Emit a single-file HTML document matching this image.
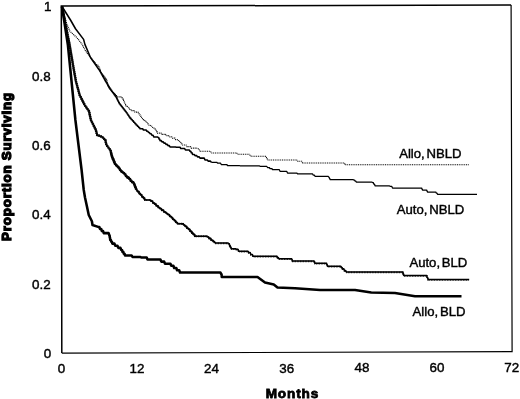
<!DOCTYPE html>
<html><head><meta charset="utf-8"><title>Survival</title>
<style>
html,body{margin:0;padding:0;background:#fff;}
body{width:520px;height:399px;overflow:hidden;position:relative;font-family:"Liberation Sans",Arial,Helvetica,sans-serif;color:#000;}
svg{position:absolute;left:0;top:0;filter:grayscale(1);}
.t{font-family:"Liberation Sans",Arial,Helvetica,sans-serif;font-size:13.4px;fill:#000;stroke:#000;stroke-width:0.42px;}
.c{font-size:13.15px;}
.b{font-family:"Liberation Sans",Arial,Helvetica,sans-serif;font-size:13.6px;font-weight:bold;fill:#000;stroke:#000;stroke-width:0.8px;letter-spacing:0.85px;paint-order:stroke;}
</style></head><body>
<svg width="520" height="399" viewBox="0 0 520 399">
<rect x="0" y="0" width="520" height="399" fill="#fff"/>
<!-- frame -->
<polyline points="61.8,353.1 61.3,6.1 511.1,5.0" fill="none" stroke="#000" stroke-width="1.5"/>
<polyline points="511.1,5.0 512.1,351.7 61.8,353.1" fill="none" stroke="#000" stroke-width="1.2"/>
<!-- curves -->
<polyline points="62.00,6.50 66.75,23.75 69.90,31.25 76.75,37.50 81.75,43.75 84.90,49.90 88.50,55.00 91.00,58.00 97.00,65.00 97.75,65.00 98.15,66.50 98.90,66.50 99.30,68.00 99.56,68.00 99.70,69.25 99.96,69.25 100.10,70.50 100.36,70.50 100.50,71.75 100.76,71.75 100.90,73.00 101.57,73.00 101.93,74.25 102.59,74.25 102.95,75.50 103.62,75.50 103.97,76.75 104.64,76.75 105.00,78.00 105.43,78.00 105.67,79.17 106.10,79.17 106.33,80.33 106.77,80.33 107.00,81.50 107.22,81.50 107.33,83.00 107.55,83.00 107.67,84.50 107.88,84.50 108.00,86.00 108.43,86.00 108.67,87.17 109.10,87.17 109.33,88.33 109.77,88.33 110.00,89.50 110.75,89.50 111.15,90.73 111.90,90.73 112.30,91.97 113.05,91.97 113.45,93.20 114.20,93.20 114.60,94.43 115.35,94.43 115.75,95.67 116.50,95.67 116.90,96.90 121.70,96.90 122.50,98.75 122.91,98.75 123.12,100.00 123.53,100.00 123.75,101.25 124.16,101.25 124.38,102.50 124.78,102.50 125.00,103.75 125.41,103.75 125.62,105.00 126.03,105.00 126.25,106.25 127.33,106.25 127.92,107.70 129.00,107.70 129.58,109.15 130.67,109.15 131.25,110.60 134.20,110.60 135.00,112.17 137.95,112.17 138.75,113.75 139.36,113.75 139.69,115.00 140.30,115.00 140.62,116.25 141.23,116.25 141.56,117.50 142.17,117.50 142.50,118.75 143.31,118.75 143.75,120.00 144.56,120.00 145.00,121.25 145.81,121.25 146.25,122.50 147.06,122.50 147.50,123.75 148.31,123.75 148.75,125.00 149.97,125.00 150.63,126.25 151.86,126.25 152.52,127.50 153.74,127.50 154.40,128.75 155.07,128.75 155.43,130.20 156.10,130.20 156.47,131.65 157.14,131.65 157.50,133.10 161.07,133.10 161.88,134.35 165.45,134.35 166.25,135.60 168.57,135.60 169.38,136.85 171.70,136.85 172.50,138.10 174.82,138.10 175.62,139.68 177.95,139.68 178.75,141.25 179.56,141.25 180.00,142.50 180.81,142.50 181.25,143.75 182.06,143.75 182.50,145.00 186.07,145.00 186.88,146.55 190.45,146.55 191.25,148.10 196.70,148.10 197.50,148.75 198.31,148.75 198.75,150.00 199.56,150.00 200.00,151.25 207.50,151.25 210.45,151.25 211.25,153.00 235.00,153.00 236.70,153.00 237.50,154.25 248.75,154.25 249.56,154.25 250.00,155.25 250.81,155.25 251.25,156.25 265.00,156.25 265.54,156.25 265.83,157.50 266.38,157.50 266.67,158.75 267.21,158.75 267.50,160.00 292.50,160.00 296.70,160.00 297.50,161.25 301.70,161.25 302.50,163.00 343.75,163.00 344.56,163.00 345.00,164.75 468.75,164.75" fill="none" stroke="#000" stroke-width="1.15" stroke-dasharray="1 0.8"/>
<polyline points="62.00,6.50 70.50,20.00 75.50,28.75 83.60,39.40 84.90,44.40 90.50,57.50 99.25,70.00 99.70,70.00 99.94,71.25 100.40,71.25 100.64,72.50 101.09,72.50 101.33,73.75 101.78,73.75 102.03,75.00 102.48,75.00 102.72,76.25 103.17,76.25 103.42,77.50 103.87,77.50 104.11,78.75 104.56,78.75 104.81,80.00 105.26,80.00 105.50,81.25 105.99,81.25 106.25,82.50 106.74,82.50 107.00,83.75 107.49,83.75 107.75,85.00 108.24,85.00 108.50,86.25 108.99,86.25 109.25,87.50 109.74,87.50 110.00,88.75 110.58,88.75 110.89,90.00 111.47,90.00 111.79,91.25 112.37,91.25 112.68,92.50 113.26,92.50 113.57,93.75 114.15,93.75 114.46,95.00 115.04,95.00 115.36,96.25 115.94,96.25 116.25,97.50 116.66,97.50 116.88,98.75 117.29,98.75 117.51,100.00 117.92,100.00 118.14,101.25 118.55,101.25 118.77,102.50 119.18,102.50 119.40,103.75 120.04,103.75 120.38,105.00 121.01,105.00 121.36,106.25 121.99,106.25 122.34,107.50 122.97,107.50 123.31,108.75 123.95,108.75 124.29,110.00 124.93,110.00 125.27,111.25 125.91,111.25 126.25,112.50 126.86,112.50 127.19,113.90 127.80,113.90 128.12,115.30 128.73,115.30 129.06,116.70 129.67,116.70 130.00,118.10 130.81,118.10 131.25,119.48 132.06,119.48 132.50,120.86 133.31,120.86 133.75,122.24 134.56,122.24 135.00,123.62 135.81,123.62 136.25,125.00 137.06,125.00 137.50,126.25 138.31,126.25 138.75,127.50 139.56,127.50 140.00,128.75 142.65,128.75 143.45,130.00 146.10,130.00 146.90,131.25 147.91,131.25 148.45,132.50 149.46,132.50 150.00,133.75 151.22,133.75 151.88,135.32 153.09,135.32 153.75,136.90 157.30,136.90 158.10,137.50 158.72,137.50 159.05,139.05 159.67,139.05 160.00,140.60 161.30,140.60 162.00,141.86 163.30,141.86 164.00,143.12 165.30,143.12 166.00,144.38 167.30,144.38 168.00,145.64 169.30,145.64 170.00,146.90 175.45,146.90 176.25,147.25 180.03,147.25 180.83,148.58 184.62,148.58 185.42,149.92 189.20,149.92 190.00,151.25 190.81,151.25 191.25,152.82 192.06,152.82 192.50,154.40 194.20,154.40 195.00,155.63 196.70,155.63 197.50,156.87 199.20,156.87 200.00,158.10 204.20,158.10 205.00,160.00 207.32,160.00 208.12,161.12 210.45,161.12 211.25,162.25" fill="none" stroke="#000" stroke-width="1.55" stroke-linejoin="round"/>
<polyline points="211.25,162.25 216.70,162.25 217.50,163.00 220.45,163.00 221.25,164.50 226.70,164.50 227.50,165.50 239.20,165.50 240.00,165.75 259.20,165.75 260.00,166.25 266.70,166.25 267.50,167.50 269.20,167.50 270.00,168.50 271.70,168.50 272.50,169.50 279.20,169.50 280.00,171.25 286.70,171.25 287.50,173.00 296.70,173.00 297.50,173.75 311.25,173.75 312.47,173.75 313.12,175.00 314.34,175.00 315.00,176.25 327.95,176.25 328.75,177.00 329.16,177.00 329.38,178.25 329.78,178.25 330.00,179.50 352.95,179.50 353.75,180.00 354.56,180.00 355.00,181.00 355.81,181.00 356.25,182.00 371.70,182.00 372.50,182.50 373.31,182.50 373.75,184.12 374.56,184.12 375.00,185.75 389.20,185.75 390.00,186.25 391.70,186.25 392.50,188.00 421.25,188.00 421.66,188.00 421.88,189.00 422.28,189.00 422.50,190.00 426.25,190.00 426.66,190.00 426.88,191.00 427.28,191.00 427.50,192.00 435.00,192.00 435.81,192.00 436.25,193.12 437.06,193.12 437.50,194.25 477.00,194.25" fill="none" stroke="#000" stroke-width="1.25" stroke-linejoin="round"/>

<polyline points="62.00,6.50 69.65,45.00 72.80,63.75 75.90,81.25 79.65,95.00 84.65,105.00 89.00,111.25 90.90,120.00 95.90,130.00 97.15,135.00 102.15,136.90 105.30,140.00 106.50,145.00 110.30,150.00 110.54,150.00 110.67,151.50 110.91,151.50 111.04,153.00 111.28,153.00 111.41,154.50 111.65,154.50 111.78,156.00 112.02,156.00 112.15,157.50 112.60,157.50 112.84,159.06 113.28,159.06 113.53,160.62 113.97,160.62 114.21,162.19 114.66,162.19 114.90,163.75 115.73,163.75 116.18,165.31 117.00,165.31 117.45,166.88 118.28,166.88 118.72,168.44 119.55,168.44 120.00,170.00 120.97,170.00 121.50,171.50 122.47,171.50 123.00,173.00 123.97,173.00 124.50,174.50 125.47,174.50 126.00,176.00 126.97,176.00 127.50,177.50 128.52,177.50 129.06,179.06 130.08,179.06 130.62,180.62 131.64,180.62 132.19,182.19 133.20,182.19 133.75,183.75 134.16,183.75 134.38,185.31 134.78,185.31 135.00,186.88 135.41,186.88 135.62,188.44 136.03,188.44 136.25,190.00" fill="none" stroke="#111" stroke-width="2.0" stroke-linejoin="round"/>
<polyline points="62.00,6.50 69.65,45.00 72.80,63.75 75.90,81.25 79.65,95.00 84.65,105.00 89.00,111.25 90.90,120.00 95.90,130.00 97.15,135.00 102.15,136.90 105.30,140.00 106.50,145.00 110.30,150.00 110.54,150.00 110.67,151.50 110.91,151.50 111.04,153.00 111.28,153.00 111.41,154.50 111.65,154.50 111.78,156.00 112.02,156.00 112.15,157.50 112.60,157.50 112.84,159.06 113.28,159.06 113.53,160.62 113.97,160.62 114.21,162.19 114.66,162.19 114.90,163.75 115.73,163.75 116.18,165.31 117.00,165.31 117.45,166.88 118.28,166.88 118.72,168.44 119.55,168.44 120.00,170.00 120.97,170.00 121.50,171.50 122.47,171.50 123.00,173.00 123.97,173.00 124.50,174.50 125.47,174.50 126.00,176.00 126.97,176.00 127.50,177.50 128.52,177.50 129.06,179.06 130.08,179.06 130.62,180.62 131.64,180.62 132.19,182.19 133.20,182.19 133.75,183.75 134.16,183.75 134.38,185.31 134.78,185.31 135.00,186.88 135.41,186.88 135.62,188.44 136.03,188.44 136.25,190.00" fill="none" stroke="#000" stroke-width="2.6" stroke-linejoin="round" stroke-dasharray="1.1 0.9"/>
<polyline points="136.25,190.00 137.20,190.00 137.71,191.67 138.66,191.67 139.17,193.33 140.11,193.33 140.62,195.00 141.57,195.00 142.08,196.67 143.03,196.67 143.54,198.33 144.49,198.33 145.00,200.00 150.45,200.00 151.25,201.25 152.39,201.25 153.00,202.75 154.14,202.75 154.75,204.25 155.89,204.25 156.50,205.75 157.64,205.75 158.25,207.25 159.39,207.25 160.00,208.75 161.30,208.75 162.00,210.25 163.30,210.25 164.00,211.75 165.30,211.75 166.00,213.25 167.30,213.25 168.00,214.75 169.30,214.75 170.00,216.25 170.97,216.25 171.50,217.75 172.47,217.75 173.00,219.25 173.97,219.25 174.50,220.75 175.47,220.75 176.00,222.25 176.97,222.25 177.50,223.75 182.95,223.75 183.75,225.00 184.83,225.00 185.42,226.50 186.50,226.50 187.08,228.00 188.17,228.00 188.75,229.50 189.77,229.50 190.31,231.19 191.33,231.19 191.88,232.88 192.89,232.88 193.44,234.56 194.45,234.56 195.00,236.25 206.70,236.25 207.50,237.00 208.72,237.00 209.38,238.50 210.59,238.50 211.25,240.00 212.47,240.00 213.12,241.50 214.34,241.50 215.00,243.00" fill="none" stroke="#000" stroke-width="1.7" stroke-linejoin="round"/>
<polyline points="136.25,190.00 137.20,190.00 137.71,191.67 138.66,191.67 139.17,193.33 140.11,193.33 140.62,195.00 141.57,195.00 142.08,196.67 143.03,196.67 143.54,198.33 144.49,198.33 145.00,200.00 150.45,200.00 151.25,201.25 152.39,201.25 153.00,202.75 154.14,202.75 154.75,204.25 155.89,204.25 156.50,205.75 157.64,205.75 158.25,207.25 159.39,207.25 160.00,208.75 161.30,208.75 162.00,210.25 163.30,210.25 164.00,211.75 165.30,211.75 166.00,213.25 167.30,213.25 168.00,214.75 169.30,214.75 170.00,216.25 170.97,216.25 171.50,217.75 172.47,217.75 173.00,219.25 173.97,219.25 174.50,220.75 175.47,220.75 176.00,222.25 176.97,222.25 177.50,223.75 182.95,223.75 183.75,225.00 184.83,225.00 185.42,226.50 186.50,226.50 187.08,228.00 188.17,228.00 188.75,229.50 189.77,229.50 190.31,231.19 191.33,231.19 191.88,232.88 192.89,232.88 193.44,234.56 194.45,234.56 195.00,236.25 206.70,236.25 207.50,237.00 208.72,237.00 209.38,238.50 210.59,238.50 211.25,240.00 212.47,240.00 213.12,241.50 214.34,241.50 215.00,243.00" fill="none" stroke="#000" stroke-width="2.2" stroke-linejoin="round" stroke-dasharray="0.9 0.8"/>
<polyline points="215.00,243.00 227.95,243.00 228.75,243.75 229.29,243.75 229.58,245.42 230.12,245.42 230.42,247.08 230.96,247.08 231.25,248.75 235.45,248.75 236.25,249.25 237.95,249.25 238.75,251.25 247.95,251.25 248.75,252.50 250.13,252.50 250.88,254.38 252.26,254.38 253.00,256.25 276.25,256.25 277.06,256.25 277.50,257.50 278.31,257.50 278.75,258.75 290.00,258.75 291.70,258.75 292.50,261.00 312.50,261.00 314.20,261.00 315.00,263.25 326.25,263.25 326.66,263.25 326.88,264.75 327.28,264.75 327.50,266.25 340.00,266.25 340.81,266.25 341.25,267.50 342.06,267.50 342.50,268.75 343.72,268.75 344.38,270.38 345.59,270.38 346.25,272.00 402.50,272.00 402.91,272.00 403.12,273.75 403.53,273.75 403.75,275.50 426.25,275.50 426.82,275.50 427.12,277.50 427.69,277.50 428.00,279.50 469.20,279.50" fill="none" stroke="#000" stroke-width="1.5" stroke-linejoin="round"/>
<polyline points="215.00,243.00 227.95,243.00 228.75,243.75 229.29,243.75 229.58,245.42 230.12,245.42 230.42,247.08 230.96,247.08 231.25,248.75 235.45,248.75 236.25,249.25 237.95,249.25 238.75,251.25 247.95,251.25 248.75,252.50 250.13,252.50 250.88,254.38 252.26,254.38 253.00,256.25 276.25,256.25 277.06,256.25 277.50,257.50 278.31,257.50 278.75,258.75 290.00,258.75 291.70,258.75 292.50,261.00 312.50,261.00 314.20,261.00 315.00,263.25 326.25,263.25 326.66,263.25 326.88,264.75 327.28,264.75 327.50,266.25 340.00,266.25 340.81,266.25 341.25,267.50 342.06,267.50 342.50,268.75 343.72,268.75 344.38,270.38 345.59,270.38 346.25,272.00 402.50,272.00 402.91,272.00 403.12,273.75 403.53,273.75 403.75,275.50 426.25,275.50 426.82,275.50 427.12,277.50 427.69,277.50 428.00,279.50 469.20,279.50" fill="none" stroke="#000" stroke-width="1.7" stroke-linejoin="round" stroke-dasharray="0.8 0.8" transform="translate(0,0.45)"/>
<polyline points="62.00,6.50 67.90,45.00 70.40,70.00 72.90,95.00 75.40,120.00 78.50,145.00 81.60,170.00 83.75,190.00 85.00,197.50 86.90,206.25 88.75,215.00 91.90,221.25 92.50,225.00 98.10,226.90 99.32,226.90 99.98,228.97 101.21,228.97 101.87,231.03 103.09,231.03 103.75,233.10 108.60,233.10 109.40,235.60 109.66,235.60 109.80,237.75 110.06,237.75 110.20,239.90 110.88,239.90 111.25,241.75 111.93,241.75 112.30,243.60 114.48,243.60 115.28,245.73 117.47,245.73 118.27,247.87 120.45,247.87 121.25,250.00 122.06,250.00 122.50,251.83 123.31,251.83 123.75,253.67 124.56,253.67 125.00,255.50 131.70,255.50 132.50,257.00 140.45,257.00 141.25,257.50 146.70,257.50 147.50,259.50 157.50,259.50 160.45,259.50 161.25,261.62 164.20,261.62 165.00,263.75 170.45,263.75 171.25,265.75 173.37,265.75 174.17,268.00 176.28,268.00 177.08,270.25 179.20,270.25 180.00,272.50 210.00,272.50 220.45,272.50 221.25,274.25 221.57,274.25 221.75,277.00 257.50,277.00 265.00,282.50 273.75,284.40 277.50,287.50 295.00,288.25 320.00,290.00 355.00,290.00 371.25,292.50 395.00,293.00 415.00,296.25 461.50,296.25" fill="none" stroke="#000" stroke-width="2.55" stroke-linejoin="round"/>
<!-- y labels -->
<text class="t" x="51.4" y="10.9" text-anchor="end">1</text>
<text class="t" x="50.6" y="80.6" text-anchor="end">0.8</text>
<text class="t" x="50.6" y="149.9" text-anchor="end">0.6</text>
<text class="t" x="50.6" y="219.2" text-anchor="end">0.4</text>
<text class="t" x="50.6" y="288.6" text-anchor="end">0.2</text>
<text class="t" x="51.3" y="357.9" text-anchor="end">0</text>
<!-- x labels -->
<text class="t" x="61.6" y="373.4" text-anchor="middle">0</text>
<text class="t" x="137.0" y="373.2" text-anchor="middle">12</text>
<text class="t" x="211.5" y="373.0" text-anchor="middle">24</text>
<text class="t" x="286.8" y="372.8" text-anchor="middle">36</text>
<text class="t" x="362.0" y="372.4" text-anchor="middle">48</text>
<text class="t" x="436.9" y="372.4" text-anchor="middle">60</text>
<text class="t" x="511.7" y="372.0" text-anchor="middle">72</text>
<!-- curve labels -->
<text class="t c" x="399.2" y="157.9">Allo,<tspan dx="1.7">NBLD</tspan></text>
<text class="t c" x="396.8" y="214.2">Auto,<tspan dx="1.7">NBLD</tspan></text>
<text class="t c" x="409.4" y="266.8">Auto,<tspan dx="1.7">BLD</tspan></text>
<text class="t c" x="412.6" y="316.1">Allo,<tspan dx="1.7">BLD</tspan></text>
<!-- titles -->
<text class="b" x="292.4" y="397.5" text-anchor="middle">Months</text>
<text class="b" style="font-size:13.2px;letter-spacing:0.9px;word-spacing:-0.3px;stroke-width:1.3px" transform="translate(11.3,166.5) rotate(-90)" text-anchor="middle">Proportion Surviving</text>
</svg>
</body></html>
